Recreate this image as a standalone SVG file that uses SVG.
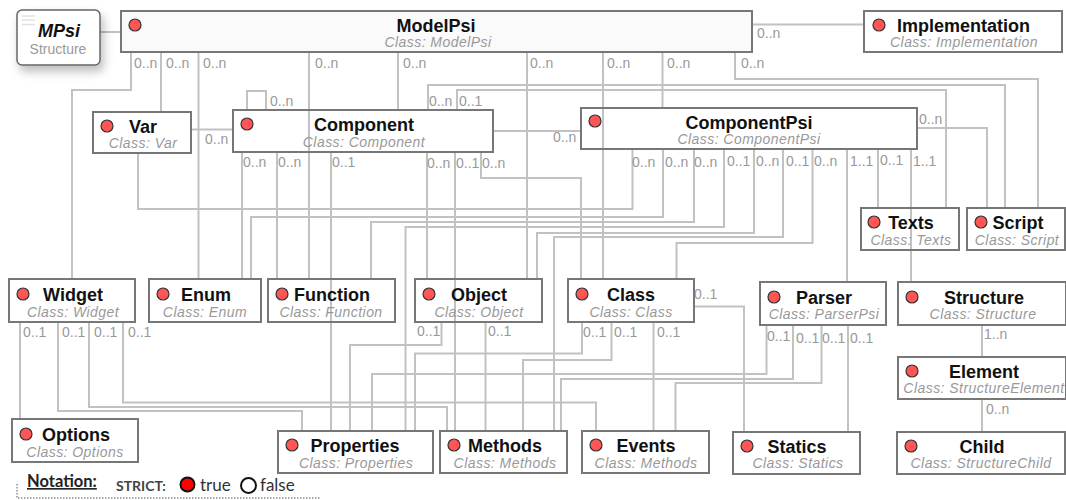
<svg xmlns="http://www.w3.org/2000/svg" width="1066" height="500" viewBox="0 0 1066 500">
<style>
.box{fill:none;stroke:#777;stroke-width:2}
.dot{fill:#f55;stroke:#333;stroke-width:1.2}
.t{font:bold 18px "Liberation Sans",Arial,sans-serif;fill:#111;text-anchor:middle}
.s{font:italic 14px "Liberation Sans",Arial,sans-serif;fill:#999;text-anchor:middle;letter-spacing:.45px}
.l{font:14px "Liberation Sans",Arial,sans-serif;fill:#999}
#connectors path{fill:none;stroke:#c2c2c2;stroke-width:2}
</style>
<defs><filter id="sh" x="-30%" y="-30%" width="170%" height="170%"><feDropShadow dx="3" dy="6" stdDeviation="5" flood-color="#000" flood-opacity=".25"/></filter></defs>
<rect width="1066" height="500" fill="#fff"/>
<rect x="121" y="11" width="631" height="41" fill="#fafafa"/>
<g id="connectors">
<path d="M100 32H121M752 24.500H864"/>
<path d="M131 52V90H72V279M161 52V112M198.500 52V279M309 52V279M398 52V110M527 52V279M603 52V279M662.500 52V108M735 52V79H1038V208"/>
<path d="M428 110V85H1005V208M457 110V90H946V208M917 128H987V208"/>
<path d="M247 110V91H266V110M191 129.500H233M493 131H581"/>
<path d="M138 153V209H632.500V149M242 152V279M277 152V279M331 152V431M427 152V279M455 152V431M481 152V178H581V279"/>
<path d="M663 149V217H251V279M694 149V222H371V279M724 149V227H405.500V431M754 149V233H537V279M783 149V237H554V431M812.500 149V243H676.500V279M847 149V282M878 149V208M911 149V282"/>
<path d="M982 325V357M982 399V432"/>
<path d="M20 322V419M58 322V411H302V431M89 322V407H447V431M123 322V402.500H596V431"/>
<path d="M441.500 322V345H350V431M485.500 322V431M582 322V353.500H415V431M611.500 322V360H523V431M653.500 322V431M694 306.500H744V432"/>
<path d="M766.500 325V374H372V431M793 325V379H561V431M821.500 325V383H675.500V431M848 325V432"/>
</g>
<g id="labels" class="l">
<text x="134" y="68">0..n</text><text x="166" y="68">0..n</text><text x="203" y="68">0..n</text><text x="315" y="68">0..n</text><text x="403" y="68">0..n</text><text x="530" y="68">0..n</text><text x="607" y="68">0..n</text><text x="667" y="68">0..n</text><text x="741" y="68">0..n</text><text x="757" y="38">0..n</text>
<text x="270" y="106">0..n</text><text x="205" y="144">0..n</text><text x="429" y="106">0..n</text><text x="459" y="106">0..1</text><text x="553" y="142">0..n</text><text x="919" y="124">0..n</text>
<text x="243" y="167">0..n</text><text x="278" y="167">0..n</text><text x="332" y="167">0..1</text><text x="427" y="168">0..n</text><text x="456" y="168">0..1</text><text x="482" y="168">0..n</text>
<text x="632" y="167">0..n</text><text x="665" y="167">0..n</text><text x="694" y="167">0..n</text><text x="727" y="166">0..1</text><text x="756" y="166">0..n</text><text x="786" y="166">0..1</text><text x="814" y="166">0..n</text><text x="850" y="166">1..1</text><text x="880" y="165">0..1</text><text x="913" y="166">1..1</text>
<text x="23" y="337">0..1</text><text x="62" y="337">0..1</text><text x="94" y="337">0..1</text><text x="128" y="337">0..1</text>
<text x="417" y="336">0..1</text><text x="488" y="336">0..1</text><text x="583" y="337">0..1</text><text x="614" y="337">0..1</text><text x="657" y="337">0..1</text><text x="694" y="299">0..1</text>
<text x="767" y="341">0..1</text><text x="796" y="343">0..1</text><text x="822" y="343">0..1</text><text x="850" y="343">0..1</text><text x="984" y="339">1..n</text><text x="986" y="414">0..n</text>
</g>
<g id="MPsi"><rect x="17" y="10" width="83" height="55" rx="5" fill="#fff" stroke="#666" stroke-width="1.500" filter="url(#sh)"/><path d="M22 16H35M22 20H35M22 24.500H35" stroke="#e2e2e2" stroke-width="1.500"/><text x="59" y="37" style="font:italic bold 18px 'Liberation Sans',Arial,sans-serif;fill:#111;text-anchor:middle">MPsi</text><text x="58" y="54" style="font:14px 'Liberation Sans',Arial,sans-serif;fill:#999;text-anchor:middle">Structure</text></g>
<g id="ModelPsi"><rect class="box" x="121" y="11" width="631" height="41"/><circle class="dot" cx="135" cy="25" r="6"/><text class="t" x="436" y="32">ModelPsi</text><text class="s" x="438" y="47">Class: ModelPsi</text></g>
<g id="Implementation"><rect class="box" x="864" y="11" width="198" height="41"/><circle class="dot" cx="879" cy="25" r="6"/><text class="t" x="963.500" y="32">Implementation</text><text class="s" x="964" y="47">Class: Implementation</text></g>
<g id="Var"><rect class="box" x="93" y="112" width="98" height="41"/><circle class="dot" cx="107" cy="126" r="6"/><text class="t" x="143" y="133">Var</text><text class="s" x="143" y="148">Class: Var</text></g>
<g id="Component"><rect class="box" x="233" y="110" width="260" height="42"/><circle class="dot" cx="247" cy="124" r="6"/><text class="t" x="364" y="131">Component</text><text class="s" x="364" y="147">Class: Component</text></g>
<g id="ComponentPsi"><rect class="box" x="581" y="108" width="336" height="41"/><circle class="dot" cx="595" cy="121" r="6"/><text class="t" x="749" y="129">ComponentPsi</text><text class="s" x="749" y="144">Class: ComponentPsi</text></g>
<g id="Texts"><rect class="box" x="861" y="208" width="98" height="42"/><circle class="dot" cx="874" cy="222" r="6"/><text class="t" x="911" y="229">Texts</text><text class="s" x="911" y="245">Class: Texts</text></g>
<g id="Script"><rect class="box" x="967" y="208" width="98" height="42"/><circle class="dot" cx="981" cy="222" r="6"/><text class="t" x="1018" y="229">Script</text><text class="s" x="1017" y="245">Class: Script</text></g>
<g id="Widget"><rect class="box" x="9" y="279" width="126" height="43"/><circle class="dot" cx="23" cy="294" r="6"/><text class="t" x="73" y="301">Widget</text><text class="s" x="73" y="317">Class: Widget</text></g>
<g id="Enum"><rect class="box" x="149" y="279" width="112" height="43"/><circle class="dot" cx="163" cy="294" r="6"/><text class="t" x="206" y="301">Enum</text><text class="s" x="205" y="317">Class: Enum</text></g>
<g id="Function"><rect class="box" x="268" y="279" width="127" height="43"/><circle class="dot" cx="282" cy="294" r="6"/><text class="t" x="332" y="301">Function</text><text class="s" x="331" y="317">Class: Function</text></g>
<g id="Object"><rect class="box" x="415" y="279" width="127" height="43"/><circle class="dot" cx="429" cy="294" r="6"/><text class="t" x="479" y="301">Object</text><text class="s" x="479" y="317">Class: Object</text></g>
<g id="Class"><rect class="box" x="568" y="279" width="126" height="43"/><circle class="dot" cx="582" cy="294" r="6"/><text class="t" x="631" y="301">Class</text><text class="s" x="631" y="317">Class: Class</text></g>
<g id="Parser"><rect class="box" x="760" y="282" width="126" height="43"/><circle class="dot" cx="774" cy="297" r="6"/><text class="t" x="824" y="304">Parser</text><text class="s" x="824" y="319">Class: ParserPsi</text></g>
<g id="Structure"><rect class="box" x="898" y="282" width="168" height="43"/><circle class="dot" cx="912" cy="297" r="6"/><text class="t" x="984" y="304">Structure</text><text class="s" x="983" y="319">Class: Structure</text></g>
<g id="Element"><rect class="box" x="898" y="357" width="168" height="42"/><circle class="dot" cx="912" cy="371" r="6"/><text class="t" x="984" y="378">Element</text><text class="s" x="984" y="393">Class: StructureElement</text></g>
<g id="Child"><rect class="box" x="897" y="432" width="168" height="42"/><circle class="dot" cx="911" cy="446" r="6"/><text class="t" x="982" y="453">Child</text><text class="s" x="981" y="468">Class: StructureChild</text></g>
<g id="Statics"><rect class="box" x="733" y="432" width="127" height="42"/><circle class="dot" cx="747" cy="446" r="6"/><text class="t" x="797" y="453">Statics</text><text class="s" x="798" y="468">Class: Statics</text></g>
<g id="Options"><rect class="box" x="12" y="419" width="126" height="43"/><circle class="dot" cx="26" cy="434" r="6"/><text class="t" x="76" y="441">Options</text><text class="s" x="75" y="457">Class: Options</text></g>
<g id="Properties"><rect class="box" x="278" y="431" width="155" height="42"/><circle class="dot" cx="292" cy="445" r="6"/><text class="t" x="355" y="452">Properties</text><text class="s" x="356" y="468">Class: Properties</text></g>
<g id="Methods"><rect class="box" x="440" y="431" width="127" height="42"/><circle class="dot" cx="454" cy="445" r="6"/><text class="t" x="505" y="452">Methods</text><text class="s" x="505" y="468">Class: Methods</text></g>
<g id="Events"><rect class="box" x="582" y="431" width="127" height="42"/><circle class="dot" cx="596" cy="445" r="6"/><text class="t" x="646" y="452">Events</text><text class="s" x="646" y="468">Class: Methods</text></g>
<g id="notation">
<path d="M17 484V498H320" fill="none" stroke="#555" stroke-width="1" stroke-dasharray="1.500 1.500"/>
<text x="27" y="487" style="font:bold 16.500px Lato,'Open Sans',sans-serif;fill:#222;text-decoration:underline">Notation:</text>
<text x="116" y="491" style="font:bold 14px Lato,'Open Sans',sans-serif;fill:#444">STRICT:</text>
<circle cx="187.500" cy="484.500" r="7" fill="#f00" stroke="#111" stroke-width="2"/>
<text x="200" y="491" style="font:17px Lato,'Open Sans',sans-serif;fill:#333">true</text>
<circle cx="248.500" cy="485.500" r="7.500" fill="#fff" stroke="#111" stroke-width="2"/>
<text x="260" y="491" style="font:17px Lato,'Open Sans',sans-serif;fill:#333">false</text>
</g>
</svg>
